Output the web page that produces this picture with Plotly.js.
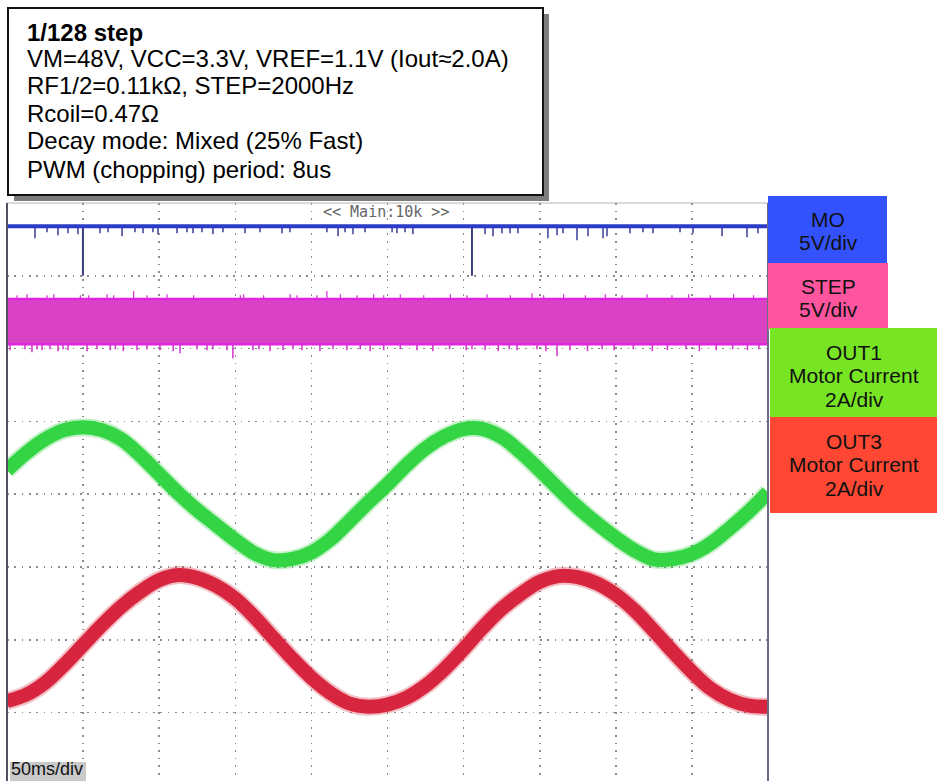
<!DOCTYPE html>
<html>
<head>
<meta charset="utf-8">
<script src="https://cdn.plot.ly/plotly-3.0.1.min.js"></script>
<style>
  html, body { margin: 0; padding: 0; background: #ffffff; }
  #scope { width: 937px; height: 781px; }
</style>
</head>
<body>
<div id="scope"></div>
<script>
// ---- Captured waveforms (time base 50 ms/div, 10 divisions) ----
const SAMPLE_MS = [0, 12.5, 25, 37.5, 50, 62.5, 75, 87.5, 100, 112.5, 125, 137.5, 150, 162.5,
                   175, 187.5, 200, 212.5, 225, 237.5, 250, 262.5, 275, 287.5, 300, 312.5,
                   325, 337.5, 350, 362.5, 375, 387.5, 400, 412.5, 425, 437.5, 450, 462.5,
                   475, 487.5, 500];

// Motor coil currents in amperes (2 A/div)
const OUT1_A = [0.66, 1.13, 1.51, 1.76, 1.84, 1.76, 1.51, 1.07, 0.55, 0.03, -0.44, -0.85,
                -1.26, -1.62, -1.81, -1.78, -1.60, -1.24, -0.74, -0.22, 0.27, 0.80, 1.26,
                1.59, 1.79, 1.79, 1.57, 1.15, 0.66, 0.14, -0.36, -0.80, -1.20, -1.55, -1.79,
                -1.78, -1.64, -1.35, -0.93, -0.47, 0.05];
const OUT3_A = [-1.68, -1.51, -1.18, -0.69, -0.14, 0.41, 0.91, 1.32, 1.64, 1.78, 1.70, 1.48,
                1.13, 0.63, 0.05, -0.52, -1.04, -1.46, -1.75, -1.84, -1.78, -1.59, -1.26,
                -0.80, -0.25, 0.33, 0.85, 1.26, 1.59, 1.75, 1.72, 1.55, 1.24, 0.80, 0.25,
                -0.33, -0.88, -1.35, -1.65, -1.81, -1.84];

// Logic levels in volts (5 V/div)
const MO_HIGH_V = 3.4;
const STEP_HIGH_V = 3.1;
const STEP_LOW_V = 0.0;

// MO: short drops below the high level (time ms, depth V)
const MO_GLITCH_MS = [18.4, 26.3, 33.5, 40.1, 46.6, 61.1, 66.4, 75.6, 84.1, 89.4, 95.9, 99.2,
                      111.7, 118.3, 122.2, 128.1, 135.3, 141.9, 156.4, 166.2, 180.7, 185.9,
                      210.2, 217.5, 222.1, 227.3, 235.2, 253.0, 256.2, 261.5, 266.7,
                      314.1, 319.3, 325.2, 330.5, 335.7, 355.4, 361.4, 365.3, 374.5, 381.7,
                      391.6, 394.2, 409.3, 417.9, 424.4, 442.2, 450.7, 469.8, 486.2, 493.4];
const MO_GLITCH_V = [0.82, 0.41, 0.62, 0.48, 0.55, 0.48, 0.41, 0.69, 0.41, 0.48, 0.41, 0.55,
                     0.48, 0.41, 0.48, 0.41, 0.55, 0.41, 0.48, 0.41, 0.48, 0.41,
                     0.41, 0.69, 0.41, 0.55, 0.41, 0.41, 0.48, 0.41, 0.55,
                     0.55, 0.69, 0.48, 0.48, 0.48, 0.82, 0.62, 0.48, 0.96, 0.69,
                     0.82, 0.69, 0.48, 0.41, 0.48, 0.41, 0.48, 0.69, 0.75, 0.48];
// MO: full pulses to ground (time ms)
const MO_PULSE_MS = [49.9, 305.5];

// STEP: overshoot above the band and undershoot below it (time ms, height V)
const STEP_OVER_MS = [6.6, 13.1, 26.3, 30.7, 48.2, 53.7, 65.7, 70.1, 83.2, 92.0, 105.1, 122.6,
                      153.3, 155.5, 168.6, 186.1, 190.5, 203.6, 210.2, 219.0, 230.0, 240.9,
                      247.5, 258.4, 273.8, 291.3, 302.2, 315.4, 330.7, 344.9, 352.6, 365.7,
                      380.0, 393.1, 404.1, 420.5, 436.9, 447.8, 462.1, 477.4, 490.5];
const STEP_OVER_V = [0.27, 0.34, 0.27, 0.34, 0.27, 0.27, 0.34, 0.27, 0.55, 0.27, 0.34, 0.27,
                     0.27, 0.34, 0.27, 0.34, 0.27, 0.27, 0.55, 0.34, 0.27, 0.34,
                     0.27, 0.34, 0.27, 0.34, 0.27, 0.34, 0.27, 0.41, 0.27, 0.34,
                     0.27, 0.34, 0.27, 0.34, 0.27, 0.34, 0.27, 0.34, 0.27];
const STEP_UNDER_MS = [2.0, 11.8, 16.4, 19.7, 23.0, 28.2, 33.5, 36.8, 40.1, 52.6, 59.1, 67.9,
                       71.2, 76.4, 85.4, 92.0, 100.5, 109.2, 113.7, 124.8, 131.4, 135.3, 144.5,
                       148.4, 161.6, 165.5, 172.8, 181.4, 187.9, 193.8, 205.6, 214.2, 223.3,
                       232.1, 238.6, 247.5, 258.4, 269.4, 279.8, 290.8, 301.7, 305.5, 314.1,
                       322.8, 330.0, 335.1, 348.2, 354.1, 361.4, 369.9, 381.4, 391.0, 398.9,
                       411.5, 424.0, 433.9, 446.1, 454.9, 466.0, 476.8, 486.5, 494.0];
const STEP_UNDER_V = [0.41, 0.34, 0.55, 0.34, 0.41, 0.34, 0.48, 0.34, 0.41, 0.48, 0.34, 0.41,
                      0.34, 0.48, 0.41, 0.34, 0.41, 0.48, 0.62, 0.34, 0.41, 0.34, 0.41,
                      0.96, 0.41, 0.34, 0.48, 0.41, 0.34, 0.41, 0.48, 0.34, 0.41,
                      0.34, 0.48, 0.41, 0.34, 0.41, 0.48, 0.34, 0.41, 0.34, 0.41,
                      0.48, 0.34, 0.41, 0.34, 0.48, 0.82, 0.41, 0.48, 0.34, 0.41,
                      0.34, 0.48, 0.41, 0.34, 0.48, 0.41, 0.34, 0.41, 0.34];

// Screen texts
const INFO_LINES = [
  "<b>1/128 step</b>",
  "VM=48V, VCC=3.3V, VREF=1.1V (Iout≈2.0A)",
  "RF1/2=0.11kΩ, STEP=2000Hz",
  "Rcoil=0.47Ω",
  "Decay mode: Mixed (25% Fast)",
  "PWM (chopping) period: 8us"
];
const CHANNEL_LABELS = [
  ["MO", "5V/div"],
  ["STEP", "5V/div"],
  ["OUT1", "Motor Current", "2A/div"],
  ["OUT3", "Motor Current", "2A/div"]
];
const TIMEBASE_LABEL = "50ms/div";
const ZOOM_LABEL = "<< Main:10k >>";

// ---- Screen geometry: channel ground positions (divisions from bottom) ----
const MO_GND_DIV = 7.0;
const STEP_GND_DIV = 6.06;
const OUT1_ZERO_DIV = 4.0;
const OUT3_ZERO_DIV = 2.0;
const V_PER_DIV = 5;
const A_PER_DIV = 2;

const W = 937, H = 781;
const PL = 7, PR = 768, PT = 203, PB = 781;
const fx = px => (px - PL) / (PR - PL);
const fy = py => (PB - py) / (PB - PT);

const vDiv = (gnd, v) => gnd + v / V_PER_DIV;
const aDiv = (zero, a) => zero + a / A_PER_DIV;

function segments(times, base, deltas, sign) {
  const x = [], y = [];
  times.forEach((t, i) => {
    x.push(t, t, null);
    y.push(base, base + sign * deltas[i] / V_PER_DIV, null);
  });
  return { x, y };
}

const moHigh = vDiv(MO_GND_DIV, MO_HIGH_V);
const stepHigh = vDiv(STEP_GND_DIV, STEP_HIGH_V);
const stepLow = vDiv(STEP_GND_DIV, STEP_LOW_V);
const span = [SAMPLE_MS[0], SAMPLE_MS[SAMPLE_MS.length - 1]];

const moGl = segments(MO_GLITCH_MS, moHigh, MO_GLITCH_V, -1);
const moPulse = segments(MO_PULSE_MS, moHigh, MO_PULSE_MS.map(() => MO_HIGH_V), -1);
const stOver = segments(STEP_OVER_MS, stepHigh, STEP_OVER_V, 1);
const stUnder = segments(STEP_UNDER_MS, stepLow, STEP_UNDER_V, -1);

const out1Y = OUT1_A.map(a => aDiv(OUT1_ZERO_DIV, a));
const out3Y = OUT3_A.map(a => aDiv(OUT3_ZERO_DIV, a));
const curve = { shape: 'spline', smoothing: 1 };

const traces = [
  // STEP pulse train: 2 kHz is far denser than the screen, so it fills the band
  { x: span, y: [stepLow, stepLow], mode: 'lines', line: { color: '#e225de', width: 2.5 } },
  { x: span, y: [stepHigh, stepHigh], mode: 'lines', fill: 'tonexty',
    fillcolor: '#da42c6', line: { color: '#e225de', width: 2.5 } },
  { x: stOver.x, y: stOver.y, mode: 'lines', line: { color: '#d92fd6', width: 1.2 } },
  { x: stUnder.x, y: stUnder.y, mode: 'lines', line: { color: '#cf35c8', width: 1.5 } },
  // MO
  { x: moGl.x, y: moGl.y, mode: 'lines', line: { color: '#3a3f96', width: 1.5 } },
  { x: moPulse.x, y: moPulse.y, mode: 'lines', line: { color: '#3b4080', width: 2 } },
  { x: span, y: [moHigh, moHigh], mode: 'lines', line: { color: '#2a3cc8', width: 4 } },
  // Coil currents: chopping ripple fringe under a solid core
  { x: SAMPLE_MS, y: out1Y, mode: 'lines', opacity: 0.3,
    line: Object.assign({ color: '#3ad04a', width: 18 }, curve) },
  { x: SAMPLE_MS, y: out1Y, mode: 'lines',
    line: Object.assign({ color: '#34d545', width: 14 }, curve) },
  { x: SAMPLE_MS, y: out3Y, mode: 'lines', opacity: 0.3,
    line: Object.assign({ color: '#d42a40', width: 18 }, curve) },
  { x: SAMPLE_MS, y: out3Y, mode: 'lines',
    line: Object.assign({ color: '#d8253f', width: 14 }, curve) }
];

const shapes = [
  // Graticule frame
  { type: 'line', xref: 'paper', yref: 'paper', x0: 0, x1: 1, y0: 1, y1: 1,
    line: { color: '#b4b4b4', width: 1 } },
  { type: 'line', xref: 'paper', yref: 'paper', x0: 0, x1: 0, y0: 0, y1: 1,
    line: { color: '#50505e', width: 2 } },
  { type: 'line', xref: 'paper', yref: 'paper', x0: 1, x1: 1, y0: 0, y1: 1,
    line: { color: '#6c6c88', width: 2 } },
  // Info box with drop shadow
  { type: 'rect', xref: 'paper', yref: 'paper', x0: fx(14), x1: fx(549), y0: fy(201), y1: fy(14),
    fillcolor: '#7c7c7c', line: { width: 0 } },
  { type: 'rect', xref: 'paper', yref: 'paper', x0: fx(8), x1: fx(543), y0: fy(195), y1: fy(8),
    fillcolor: '#ffffff', line: { color: '#111111', width: 2 } },
  // Channel tags
  { type: 'rect', xref: 'paper', yref: 'paper', x0: fx(768), x1: fx(887), y0: fy(263), y1: fy(196),
    fillcolor: '#3352fd', line: { width: 0 } },
  { type: 'rect', xref: 'paper', yref: 'paper', x0: fx(768), x1: fx(888), y0: fy(329), y1: fy(263),
    fillcolor: '#ff559f', line: { width: 0 } },
  { type: 'rect', xref: 'paper', yref: 'paper', x0: fx(770), x1: fx(937), y0: fy(417), y1: fy(328),
    fillcolor: '#77e424', line: { width: 0 } },
  { type: 'rect', xref: 'paper', yref: 'paper', x0: fx(770), x1: fx(937), y0: fy(513), y1: fy(417),
    fillcolor: '#ff4733', line: { width: 0 } },
  // Time base tag
  { type: 'rect', xref: 'paper', yref: 'paper', x0: fx(10), x1: fx(86), y0: fy(781), y1: fy(762),
    fillcolor: '#c9c9c9', line: { width: 0 } }
];

const TXT = 'Liberation Sans, Arial, sans-serif';
const annotations = [];
const INFO_Y = [32, 59, 86, 113, 141, 169];
INFO_LINES.forEach((t, i) => annotations.push({
  xref: 'paper', yref: 'paper', x: fx(25), y: fy(INFO_Y[i]), xanchor: 'left', yanchor: 'middle',
  text: t, showarrow: false, font: { family: TXT, size: 24, color: '#000000' }
}));
const TAG_X = [828, 828, 854, 854];
const TAG_Y = [[219, 243], [286, 309], [352, 375, 399], [441, 464, 488]];
CHANNEL_LABELS.forEach((lines, c) => lines.forEach((t, i) => annotations.push({
  xref: 'paper', yref: 'paper', x: fx(TAG_X[c]), y: fy(TAG_Y[c][i]), xanchor: 'center', yanchor: 'middle',
  text: t, showarrow: false, font: { family: TXT, size: 21, color: '#111111' }
})));
annotations.push({
  xref: 'paper', yref: 'paper', x: fx(9), y: fy(769), xanchor: 'left', yanchor: 'middle',
  text: TIMEBASE_LABEL, showarrow: false, font: { family: TXT, size: 18, color: '#111111' }
});
annotations.push({
  xref: 'paper', yref: 'paper', x: fx(386), y: fy(212), xanchor: 'center', yanchor: 'middle',
  text: ZOOM_LABEL.replace(/</g, '&lt;').replace(/>/g, '&gt;'), showarrow: false,
  font: { family: 'DejaVu Sans Mono, monospace', size: 15, color: '#666666' }
});

const layout = {
  width: W, height: H,
  margin: { l: PL, r: W - PR, t: PT, b: H - PB, pad: 0 },
  paper_bgcolor: '#ffffff', plot_bgcolor: '#ffffff',
  showlegend: false,
  xaxis: {
    range: span, tick0: 0, dtick: 50, showticklabels: false, ticks: '',
    showgrid: true, gridcolor: '#8a8a8a', gridwidth: 1.6, griddash: '1.6px,6px',
    zeroline: false, showline: false, fixedrange: true
  },
  yaxis: {
    range: [8 - (PB - PT) / 72.8, 8], tick0: 0, dtick: 1, showticklabels: false, ticks: '',
    showgrid: true, gridcolor: '#8a8a8a', gridwidth: 1.6, griddash: '1.6px,5.7px',
    zeroline: false, showline: false, fixedrange: true
  },
  shapes, annotations
};

Plotly.newPlot('scope', traces, layout, { staticPlot: true, displayModeBar: false });
</script>
</body>
</html>
